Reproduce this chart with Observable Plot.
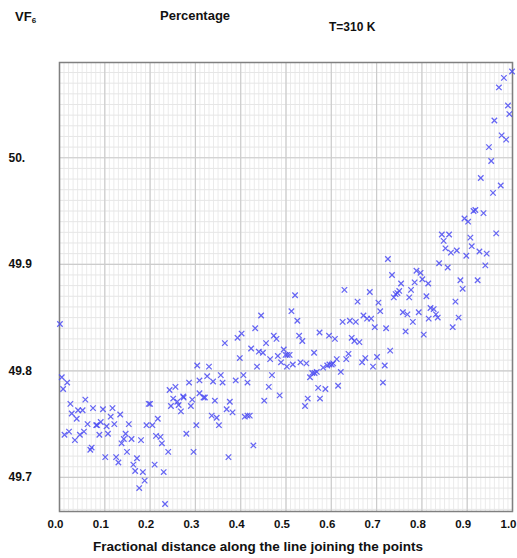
<!DOCTYPE html>
<html>
<head>
<meta charset="utf-8">
<script src="https://cdn.jsdelivr.net/npm/d3@7"></script>
<script src="https://cdn.jsdelivr.net/npm/@observablehq/plot@0.6"></script>
<style>
  html, body { margin: 0; padding: 0; background: #fff; }
  #wrap { position: relative; width: 517px; height: 558px; font-family: "Liberation Sans", Arial, sans-serif; }
  .t { position: absolute; font-weight: bold; color: #111; white-space: nowrap; line-height: 1; }
  #chart { position: absolute; left: 0; top: 0; }
</style>
</head>
<body>
<div id="wrap">
  <div id="chart"></div>
  <div class="t" style="left:15px; top:10px; font-size:13px;">VF<sub style="font-size:8px; vertical-align:-2px;">6</sub></div>
  <div class="t" style="left:160px; top:9px; font-size:13px;">Percentage</div>
  <div class="t" style="left:329px; top:21px; font-size:12px;">T=310 K</div>
</div>
<script>
const xTitle = "Fractional distance along the line joining the points";
const xTickValues = [0, 0.1, 0.2, 0.3, 0.4, 0.5, 0.6, 0.7, 0.8, 0.9, 1.0];
const xTickLabels = ["0.0","0.1","0.2","0.3","0.4","0.5","0.6","0.7","0.8","0.9","1.0"];
const yTickValues = [49.7, 49.8, 49.9, 50.0];
const yTickLabels = ["49.7", "49.8", "49.9", "50."];

const xs = [
  0.001,0.005,0.017,0.008,0.024,0.057,0.027,0.041,0.051,0.074,0.096,0.117,0.038,0.113,0.134,0.021,0.011,0.034,0.045,0.054,
  0.062,0.081,0.083,0.091,0.088,0.104,0.107,0.121,0.068,0.071,0.101,0.125,0.130,0.153,0.146,0.142,0.137,0.159,0.180,0.149,
  0.171,0.163,0.167,0.184,0.188,0.176,0.197,0.200,0.192,0.205,0.217,0.213,0.223,0.226,0.210,0.230,0.233,0.240,0.243,0.256,
  0.251,0.246,0.260,0.273,0.274,0.263,0.268,0.293,0.290,0.286,0.280,0.302,0.296,0.304,0.309,0.309,
  0.330,0.326,0.339,0.356,0.360,0.389,0.318,0.321,0.343,0.376,0.369,0.382,0.336,0.347,0.352,0.409,0.415,0.420,0.373,0.428,
  0.398,0.365,0.393,0.402,0.406,0.415,0.436,0.423,0.432,0.445,0.440,0.449,0.456,0.465,0.452,0.462,0.469,0.473,0.479,0.482,
  0.489,0.495,0.499,0.503,0.508,0.502,0.515,0.486,0.520,0.512,0.525,0.529,0.536,0.532,0.545,0.562,0.574,0.558,0.563,0.553,
  0.571,0.548,0.542,0.575,0.568,
  0.587,0.582,0.591,0.596,0.601,0.604,0.612,0.621,0.615,0.595,0.608,0.625,0.641,0.654,0.629,0.645,0.651,0.662,0.638,0.633,
  0.668,0.675,0.658,0.671,0.679,0.688,0.685,0.696,0.692,0.701,0.718,0.714,0.704,0.708,0.721,0.730,0.725,0.734,0.738,0.742,
  0.746,0.750,0.754,0.758,0.768,0.764,0.772,0.776,0.780,0.784,0.788,0.797,0.801,0.793,0.804,0.810,0.814,0.815,0.819,
  0.826,0.831,0.835,0.868,0.881,0.874,0.890,0.885,0.923,0.940,0.857,0.838,0.852,0.864,0.877,0.848,0.844,0.860,0.898,0.910,
  0.907,0.927,0.943,0.964,0.894,0.902,0.914,0.918,0.936,
  0.999,0.981,0.970,0.990,0.993,0.960,0.976,0.986,0.948,0.953,0.930,0.974,0.957
];
const ys = [
  49.844,49.794,49.789,49.783,49.769,49.773,49.760,49.763,49.763,49.765,49.764,49.765,49.755,49.757,49.759,49.743,49.740,49.735,49.740,49.743,
  49.750,49.749,49.749,49.752,49.740,49.748,49.741,49.750,49.726,49.728,49.719,49.719,49.714,49.750,49.741,49.736,49.732,49.736,49.735,49.724,
  49.718,49.712,49.706,49.705,49.697,49.690,49.769,49.769,49.749,49.749,49.755,49.739,49.738,49.732,49.712,49.705,49.675,49.724,49.782,49.785,
  49.774,49.767,49.771,49.776,49.775,49.768,49.762,49.773,49.767,49.789,49.741,49.749,49.724,49.805,49.791,49.779,
  49.804,49.795,49.790,49.796,49.789,49.791,49.775,49.775,49.772,49.771,49.764,49.761,49.758,49.756,49.749,49.757,49.758,49.758,49.719,49.730,
  49.812,49.826,49.831,49.835,49.796,49.789,49.804,49.821,49.840,49.852,49.818,49.817,49.826,49.811,49.772,49.785,49.796,49.833,49.830,49.814,
  49.808,49.820,49.815,49.815,49.815,49.804,49.806,49.777,49.871,49.856,49.847,49.833,49.828,49.808,49.807,49.817,49.836,49.798,49.798,49.794,
  49.784,49.774,49.767,49.774,49.799,
  49.783,49.803,49.805,49.806,49.806,49.807,49.811,49.799,49.786,49.833,49.830,49.846,49.847,49.846,49.876,49.831,49.828,49.827,49.816,49.811,
  49.808,49.812,49.865,49.852,49.849,49.849,49.874,49.841,49.804,49.813,49.805,49.789,49.864,49.856,49.840,49.819,49.905,49.890,49.869,49.872,
  49.873,49.875,49.882,49.855,49.853,49.837,49.869,49.876,49.846,49.883,49.894,49.892,49.886,49.855,49.834,49.870,49.882,49.849,49.859,
  49.858,49.853,49.850,49.841,49.850,49.865,49.877,49.885,49.885,49.899,49.897,49.901,49.915,49.911,49.913,49.922,49.928,49.928,49.908,49.917,
  49.925,49.912,49.910,49.929,49.943,49.940,49.950,49.951,49.948,
  50.081,50.075,50.066,50.049,50.041,50.035,50.021,50.017,50.010,49.997,49.981,49.974,49.967
];

const points = xs.map((x, i) => ({x, y: ys[i]}));
const xMinor = d3.range(0, 101).map(i => i / 100);
const yMinor = d3.range(4967, 5009).map(i => i / 100);

const chart = Plot.plot({
  width: 517,
  height: 558,
  marginLeft: 59,
  marginRight: 5,
  marginTop: 62,
  marginBottom: 47,
  style: { fontFamily: "'Liberation Sans', Arial, sans-serif", background: "#fff" },
  x: { domain: [0, 1] },
  y: { domain: [49.668, 50.0894] },
  marks: [
    Plot.ruleX(xMinor, { stroke: "#ebebeb", strokeWidth: 1 }),
    Plot.ruleY(yMinor, { stroke: "#e6e6e6", strokeWidth: 1 }),
    Plot.ruleX(xTickValues, { stroke: "#cccccc", strokeWidth: 1.2 }),
    Plot.ruleY(yTickValues, { stroke: "#cccccc", strokeWidth: 1.2 }),
    Plot.frame({ stroke: "#808080", strokeWidth: 1.5 }),
    Plot.axisX({ ticks: xTickValues, tickFormat: (d, i) => xTickLabels[i], tickSize: 0, tickPadding: 8, dx: -4, fontSize: 11.5, fontWeight: "bold", fill: "#111", label: null }),
    Plot.axisY({ ticks: yTickValues, tickFormat: (d, i) => yTickLabels[i], tickSize: 0, tickPadding: 0, textAnchor: "start", dx: -51, fontSize: 12, fontWeight: "bold", fill: "#111", label: null }),
    Plot.text([xTitle], { frameAnchor: "bottom", dy: 39, dx: -28, fontSize: 13.5, fontWeight: "bold", fill: "#111" }),
    Plot.dot(points, { x: "x", y: "y", symbol: "times", r: 2.6, stroke: "#4b4bf2", strokeWidth: 1.25, strokeOpacity: 0.85 })
  ]
});
document.getElementById("chart").appendChild(chart);
</script>
</body>
</html>
